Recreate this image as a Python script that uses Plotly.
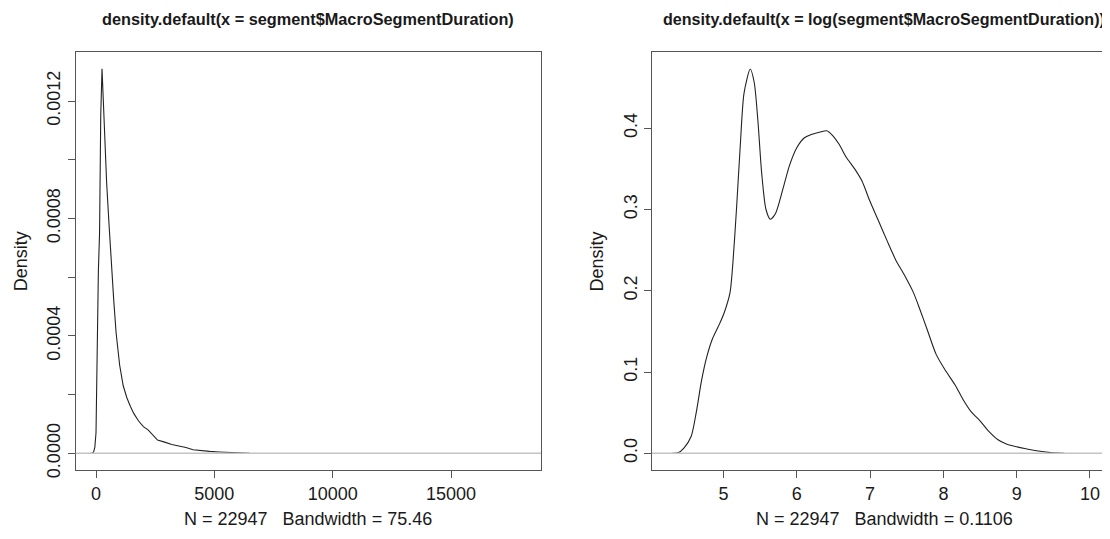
import plotly.graph_objects as go

# ---------------- data ----------------
# Left panel: density of MacroSegmentDuration
dur_x = [-226, -150, -100, -50, 0, 50, 100, 150, 200, 254, 300, 350, 400, 450,
         550, 650, 750, 850, 1000, 1150, 1300, 1450, 1600, 1800, 2000, 2200,
         2400, 2600, 2900, 3200, 3500, 3800, 4100, 4400, 4800, 5200, 5600,
         6000, 6500]
dur_y = [0, 0.0000005, 0.000005, 0.00002, 0.00007, 0.0004, 0.00062, 0.00075,
         0.00115, 0.00131, 0.00122, 0.00108, 0.00098, 0.00092, 0.00078,
         0.00064, 0.00052, 0.00041, 0.00030, 0.00023, 0.00019, 0.00016,
         0.000135, 0.00011, 0.000091, 0.00008, 0.000062, 0.000045, 0.000038,
         0.00003, 0.000025, 0.00002, 0.000012, 0.000009, 0.0000065,
         0.0000045, 0.000003, 0.0000015, 0]

# Right panel: density of log(MacroSegmentDuration)
log_x = [4.30, 4.38, 4.46, 4.56, 4.63, 4.70, 4.77, 4.85, 4.94, 5.01, 5.09, 5.13,
         5.18, 5.23, 5.28, 5.365, 5.42, 5.47, 5.52, 5.58, 5.64, 5.71, 5.81,
         5.90, 6.00, 6.10, 6.19, 6.31, 6.41, 6.48, 6.58, 6.67, 6.79, 6.89,
         6.99, 7.11, 7.23, 7.35, 7.47, 7.59, 7.68, 7.78, 7.90, 8.02, 8.16,
         8.26, 8.38, 8.50, 8.62, 8.74, 8.86, 8.98, 9.125, 9.27, 9.46, 9.65]
log_y = [0, 0.0005, 0.0063, 0.021, 0.051, 0.089, 0.118, 0.141, 0.158, 0.173,
         0.198, 0.236, 0.304, 0.38, 0.443, 0.473, 0.456, 0.409, 0.346, 0.30,
         0.288, 0.295, 0.325, 0.354, 0.376, 0.388, 0.392, 0.395, 0.397, 0.392,
         0.38, 0.365, 0.35, 0.335, 0.312, 0.287, 0.262, 0.238, 0.219, 0.198,
         0.177, 0.152, 0.122, 0.103, 0.084, 0.0675, 0.051, 0.040, 0.027,
         0.017, 0.0114, 0.0084, 0.0055, 0.003, 0.0008, 0]

left_xticks = [0, 5000, 10000, 15000]
left_xtick_text = ["0", "5000", "10000", "15000"]
left_yticks = [0, 0.0002, 0.0004, 0.0006, 0.0008, 0.0010, 0.0012]
left_ytick_text = ["0.0000", "", "0.0004", "", "0.0008", "", "0.0012"]
right_xticks = [5, 6, 7, 8, 9, 10]
right_xtick_text = ["5", "6", "7", "8", "9", "10"]
right_yticks = [0, 0.1, 0.2, 0.3, 0.4]
right_ytick_text = ["0.0", "0.1", "0.2", "0.3", "0.4"]

left_title = "density.default(x = segment$MacroSegmentDuration)"
right_title = "density.default(x = log(segment$MacroSegmentDuration))"
left_xlabel = "N = 22947\u00a0\u00a0\u00a0Bandwidth = 75.46"
right_xlabel = "N = 22947\u00a0\u00a0\u00a0Bandwidth = 0.1106"
ylabel = "Density"

# ---------------- figure ----------------
# The page body has an 8px margin, so the figure is drawn 8px in from the
# window's top-left corner; all window positions below are shifted by OFF.
OFF = 8
W, H = 1110 - OFF, 539 - OFF
FONT = "Liberation Sans, Arial, sans-serif"
AX = "#555555"
TXT = "#1a1a1a"

fig = go.Figure()
fig.add_trace(go.Scatter(x=dur_x, y=dur_y, mode="lines",
                         line=dict(color="#222222", width=1.1),
                         xaxis="x", yaxis="y", showlegend=False, hoverinfo="skip"))
fig.add_trace(go.Scatter(x=log_x, y=log_y, mode="lines",
                         line=dict(color="#222222", width=1.1, shape="spline",
                                   smoothing=0.7),
                         xaxis="x2", yaxis="y2", showlegend=False, hoverinfo="skip"))

# zero lines (R's zero.line, gray, drawn over the curve)
for xr, yr in (("x domain", "y"), ("x2 domain", "y2")):
    fig.add_shape(type="line", xref=xr, yref=yr, x0=0, x1=1, y0=0, y1=0,
                  line=dict(color="#c4c4c4", width=1.5), layer="above")

L0, L1 = 75.7 - OFF, 541.0 - OFF
R0 = 652.0 - OFF
TOP, BOT = 52.3 - OFF, 470.0 - OFF
ydom = [(H - BOT) / H, (H - TOP) / H]

common_x = dict(showgrid=False, zeroline=False, showline=True, linecolor=AX,
                linewidth=1.2, ticks="outside", ticklen=7, tickcolor=AX,
                tickwidth=1.1, tickfont=dict(family=FONT, size=18, color=TXT))
common_y = dict(showgrid=False, zeroline=False, showline=True, linecolor=AX,
                linewidth=1.2, ticks="outside", ticklen=7, tickcolor=AX,
                tickwidth=1.1, tickangle=-90,
                tickfont=dict(family=FONT, size=18, color=TXT))

fig.update_layout(
    width=W, height=H,
    margin=dict(l=0, r=0, t=0, b=0, autoexpand=False),
    paper_bgcolor="white", plot_bgcolor="white",
    xaxis=dict(domain=[L0 / W, L1 / W], range=[-858, 18803],
               tickvals=left_xticks, ticktext=left_xtick_text, mirror=True,
               anchor="y", **common_x),
    yaxis=dict(domain=ydom, range=[-0.0000569, 0.001366],
               tickvals=left_yticks, ticktext=left_ytick_text, mirror=True,
               anchor="x", **common_y),
    xaxis2=dict(domain=[R0 / W, 1.0], range=[4.025, 10.273],
                tickvals=right_xticks, ticktext=right_xtick_text, mirror=True,
                anchor="y2", **common_x),
    yaxis2=dict(domain=ydom, range=[-0.0206, 0.4935],
                tickvals=right_yticks, ticktext=right_ytick_text, mirror=False,
                anchor="x2", **common_y),
)

def ann(text, xpx, ypx, size, bold=False, angle=0, xanchor="center"):
    fig.add_annotation(text=f"<b>{text}</b>" if bold else text,
                       xref="paper", yref="paper", x=xpx / W, y=1 - ypx / H,
                       xanchor=xanchor, yanchor="middle", showarrow=False,
                       textangle=angle,
                       font=dict(family=FONT, size=size, color=TXT))

ann(left_title, (L0 + L1) / 2, 19 - OFF, 16.3, bold=True)
ann(right_title, 1107 - OFF, 19 - OFF, 16.1, bold=True, xanchor="right")
ann(left_xlabel, (L0 + L1) / 2, 519 - OFF, 18)
ann(right_xlabel, R0 + (L1 - L0) / 2, 519 - OFF, 18)
ann(ylabel, 21 - OFF, (TOP + BOT) / 2, 18, angle=-90)
ann(ylabel, R0 - (L0 - (21 - OFF)), (TOP + BOT) / 2, 18, angle=-90)

fig.write_html("out.html")
